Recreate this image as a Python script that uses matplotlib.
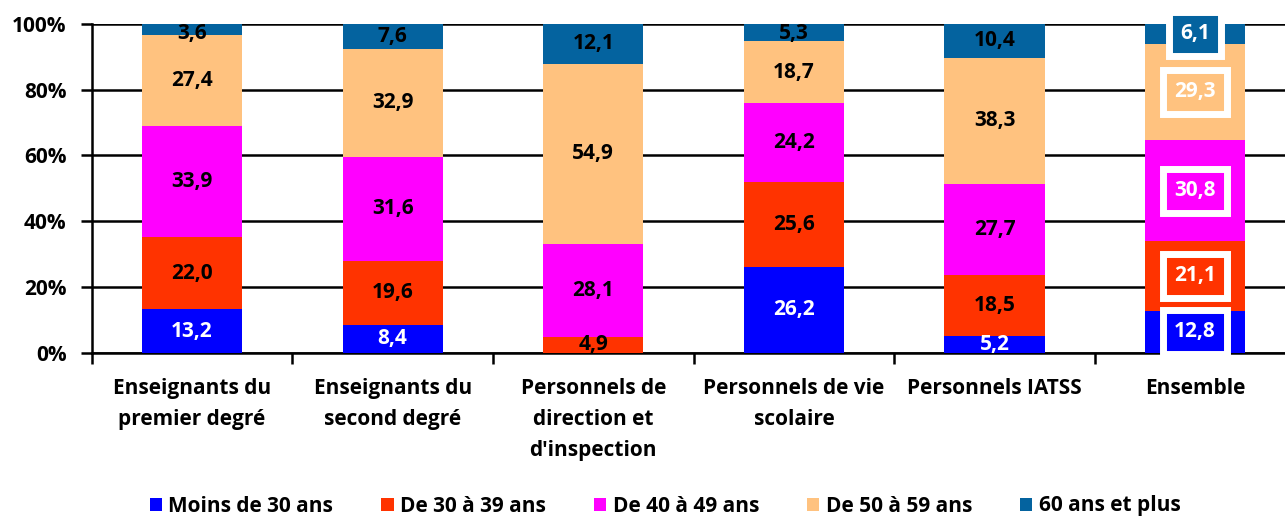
import numpy as np
import matplotlib.pyplot as plt

plt.rcParams['font.family'] = ['Open Sans', 'DejaVu Sans']

categories = [
    "Enseignants du\npremier degré",
    "Enseignants du\nsecond degré",
    "Personnels de\ndirection et\nd'inspection",
    "Personnels de vie\nscolaire",
    "Personnels IATSS",
    "Ensemble",
]
series_names = ["Moins de 30 ans", "De 30 à 39 ans", "De 40 à 49 ans",
                "De 50 à 59 ans", "60 ans et plus"]
moins30 = [13.2, 8.4, 0.0, 26.2, 5.2, 12.8]
de30_39 = [22.0, 19.6, 4.9, 25.6, 18.5, 21.1]
de40_49 = [33.9, 31.6, 28.1, 24.2, 27.7, 30.8]
de50_59 = [27.4, 32.9, 54.9, 18.7, 38.3, 29.3]
plus60 = [3.6, 7.6, 12.1, 5.3, 10.4, 6.1]

colors = ["#0000FF", "#FF3300", "#FF00FF", "#FFC27F", "#04639F"]
text_colors = ["white", "black", "black", "black", "black"]

data = [moins30, de30_39, de40_49, de50_59, plus60]

fig = plt.figure(figsize=(12.85, 5.17), dpi=100)
ax = fig.add_axes([0.0714, 0.3178, 0.9367, 0.6358])

x = np.arange(len(categories))
bottom = np.zeros(len(categories))
for i, vals in enumerate(data):
    vals = np.array(vals)
    ax.bar(x, vals, width=0.5, bottom=bottom, color=colors[i],
           label=series_names[i], zorder=3)
    for j, v in enumerate(vals):
        if v <= 0:
            continue
        yc = bottom[j] + v / 2
        txt = f"{v:.1f}".replace(".", ",")
        if j == len(categories) - 1:
            ax.text(x[j], yc, txt, ha="center", va="center", fontsize=15,
                    fontweight="bold", color="white", zorder=5,
                    bbox=dict(boxstyle="square,pad=0.55", facecolor=colors[i],
                              edgecolor="white", linewidth=5))
        else:
            if i == 4:
                yc = min(yc, 97.0)
            ax.text(x[j], yc, txt, ha="center", va="center", fontsize=15,
                    fontweight="bold", color=text_colors[i], zorder=5)
    bottom += vals

ax.set_ylim(0, 100)
ax.set_xlim(-0.5, len(categories) - 0.5)
ax.set_yticks([0, 20, 40, 60, 80, 100])
ax.set_yticklabels(["0%", "20%", "40%", "60%", "80%", "100%"])
ax.yaxis.grid(True, color="black", linewidth=1.8, zorder=0)
ax.set_axisbelow(True)

ax.set_xticks(x)
ax.set_xticklabels(categories, fontsize=15, fontweight="bold", va="top",
                   linespacing=1.65)
ax.set_xticks(np.arange(len(categories) + 1) - 0.5, minor=True)
ax.tick_params(axis="x", which="major", length=0, pad=18)
ax.tick_params(axis="x", which="minor", length=8, width=1.8, direction="out")
ax.tick_params(axis="y", length=8, width=1.8, direction="out", labelsize=15,
               pad=10)
for lab in ax.get_yticklabels():
    lab.set_fontweight("bold")

for s in ["top", "right"]:
    ax.spines[s].set_visible(False)
ax.spines["left"].set_linewidth(1.8)
ax.spines["bottom"].set_linewidth(1.8)

fig.legend(loc="center", bbox_to_anchor=(665 / 1285, 11 / 517), ncol=5,
           frameon=False, handlelength=0.6, handleheight=0.6,
           handletextpad=0.3, columnspacing=2.3,
           prop={"weight": "bold", "size": 15})

fig.savefig("out.png", dpi=100)
